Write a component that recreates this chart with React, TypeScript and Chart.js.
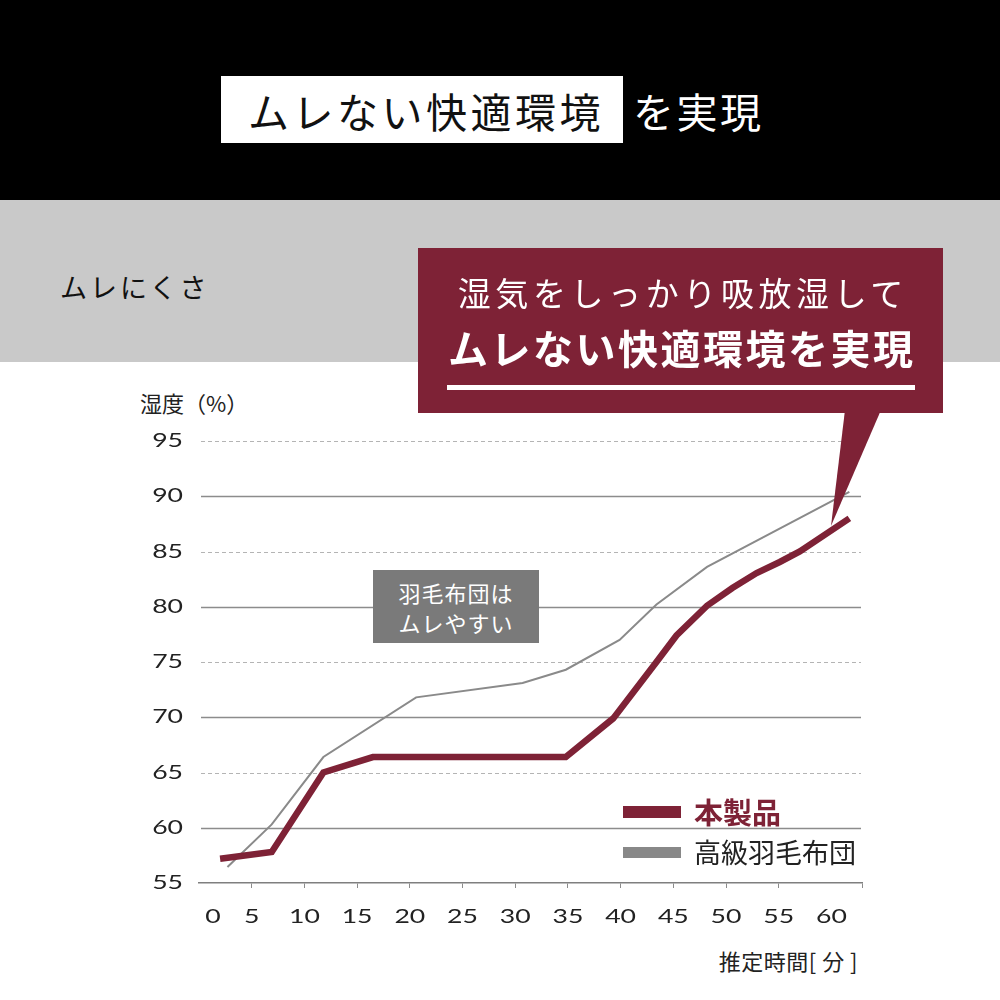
import React, { useEffect, useRef } from "react";
import { Chart, registerables } from "chart.js";

Chart.register(...registerables);

// ---- data ----
const timeTicks = [0, 5, 10, 15, 20, 25, 30, 35, 40, 45, 50, 55, 60];
const humidityTicks = [55, 60, 65, 70, 75, 80, 85, 90, 95];

const productTime = [2.0, 6.9, 11.8, 16.5, 34.8, 39.3, 43.4, 45.3, 48.2, 50.6, 52.9, 55.1, 57.0, 61.7];
const productHumidity = [57.2, 57.8, 65.0, 66.4, 66.4, 69.9, 75.0, 77.4, 80.1, 81.7, 83.05, 84.05, 85.0, 88.0];

const downTime = [2.7, 6.9, 11.8, 20.6, 30.7, 34.8, 39.9, 43.4, 48.2, 61.7];
const downHumidity = [56.45, 60.3, 66.4, 71.8, 73.1, 74.3, 77.0, 80.2, 83.6, 90.4];

const seriesLabels = ["本製品", "高級羽毛布団"];

const BURGUNDY = "#7e2236";
const GREY_LINE = "#8a8a8a";
const JP = '"Noto Sans CJK JP", "Noto Sans", sans-serif';

function drawWide(ctx: CanvasRenderingContext2D, text: string, x: number, y: number, align: CanvasTextAlign, sx: number) {
  ctx.save();
  ctx.translate(x, y);
  ctx.scale(sx, 1);
  ctx.textAlign = align;
  ctx.textBaseline = "middle";
  ctx.fillText(text, 0, 0);
  ctx.restore();
}

const gridPlugin = {
  id: "altGrid",
  beforeDatasetsDraw(chart: any) {
    const { ctx, chartArea, scales } = chart;
    const y = scales.y;
    ctx.save();
    humidityTicks.forEach((v) => {
      if (v === 55) return;
      const py = Math.round(y.getPixelForValue(v)) + 0.5;
      ctx.beginPath();
      if (v % 10 === 0) {
        ctx.setLineDash([]);
        ctx.strokeStyle = "#8c8c8c";
        ctx.lineWidth = 1.5;
      } else {
        ctx.setLineDash([4, 3]);
        ctx.strokeStyle = "#b4b4b4";
        ctx.lineWidth = 1;
      }
      ctx.moveTo(chartArea.left + 2, py);
      ctx.lineTo(chartArea.right - 1, py);
      ctx.stroke();
    });
    ctx.restore();
  },
  afterDraw(chart: any) {
    const { ctx, chartArea, scales } = chart;
    const x = scales.x;
    const y = scales.y;
    ctx.save();
    ctx.fillStyle = "#222";
    ctx.font = "19px Lato, sans-serif";
    humidityTicks.forEach((v) => {
      drawWide(ctx, String(v), chartArea.left - 16, y.getPixelForValue(v), "right", 1.4);
    });
    timeTicks.forEach((v) => {
      let px = x.getPixelForValue(v);
      if (v === 0) px += 14;
      drawWide(ctx, String(v), px, chartArea.bottom + 34, "center", 1.4);
    });
    ctx.restore();
  },
};

function ChartCanvas() {
  const ref = useRef<HTMLCanvasElement | null>(null);
  useEffect(() => {
    if (!ref.current) return;
    const chart = new Chart(ref.current, {
      type: "line",
      data: {
        datasets: [
          {
            label: seriesLabels[0],
            data: productTime.map((t, i) => ({ x: t, y: productHumidity[i] })),
            borderColor: BURGUNDY,
            borderWidth: 6.5,
            pointRadius: 0,
            tension: 0,
            fill: false,
          },
          {
            label: seriesLabels[1],
            data: downTime.map((t, i) => ({ x: t, y: downHumidity[i] })),
            borderColor: GREY_LINE,
            borderWidth: 2,
            pointRadius: 0,
            tension: 0,
            fill: false,
          },
        ],
      },
      options: {
        animation: false,
        responsive: true,
        maintainAspectRatio: false,
        layout: { padding: { left: 199, right: 138, top: 441, bottom: 107 } },
        plugins: { legend: { display: false }, tooltip: { enabled: false } },
        scales: {
          x: {
            type: "linear",
            min: 0,
            max: 62.9,
            ticks: { display: false, stepSize: 5 },
            grid: {
              drawOnChartArea: false,
              drawTicks: true,
              tickLength: 5,
              tickWidth: 1,
              tickColor: (c: any) => (c.tick && c.tick.value === 0 ? "rgba(0,0,0,0)" : "#8c8c8c"),
            },
            border: { display: true, color: "#7f7f7f", width: 1.5 },
            afterFit: (s: any) => {
              s.height = 10;
            },
          },
          y: {
            type: "linear",
            min: 55,
            max: 95,
            ticks: { display: false, stepSize: 5 },
            grid: { display: false },
            border: { display: false },
            afterFit: (s: any) => {
              s.width = 0;
            },
          },
        },
      },
      plugins: [gridPlugin],
    } as any);
    return () => chart.destroy();
  }, []);
  return <canvas ref={ref} style={{ display: "block" }} />;
}

const abs = (o: React.CSSProperties): React.CSSProperties => ({ position: "absolute", ...o });

export default function App() {
  return (
    <div
      style={{
        position: "absolute",
        left: 0,
        top: 0,
        width: 1000,
        height: 1000,
        background: "#fff",
        overflow: "hidden",
        fontFamily: JP,
      }}
    >
      {/* header band */}
      <div style={abs({ left: 0, top: 0, width: 1000, height: 200, background: "#000" })} />
      <div style={abs({ left: 221, top: 76, width: 402, height: 67, background: "#fff" })} />
      <div
        style={abs({
          left: 248,
          top: 84,
          height: 52,
          lineHeight: "52px",
          fontSize: 41,
          letterSpacing: 3.5,
          color: "#111",
          whiteSpace: "nowrap",
        })}
      >
        ムレない快適環境
      </div>
      <div
        style={abs({
          left: 633,
          top: 84,
          height: 52,
          lineHeight: "52px",
          fontSize: 41,
          letterSpacing: 2.5,
          color: "#fff",
          whiteSpace: "nowrap",
        })}
      >
        を実現
      </div>

      {/* gray band */}
      <div style={abs({ left: 0, top: 200, width: 1000, height: 162, background: "#c9c9c9" })} />
      <div
        style={abs({
          left: 60,
          top: 267,
          height: 40,
          lineHeight: "40px",
          fontSize: 27,
          letterSpacing: 3,
          color: "#111",
          whiteSpace: "nowrap",
        })}
      >
        ムレにくさ
      </div>

      {/* axis titles */}
      <div
        style={abs({
          left: 140,
          top: 387,
          height: 30,
          lineHeight: "30px",
          fontSize: 22,
          color: "#222",
          whiteSpace: "nowrap",
        })}
      >
        湿度（%）
      </div>
      <div
        style={abs({
          right: 142,
          top: 945,
          height: 30,
          lineHeight: "30px",
          fontSize: 22,
          letterSpacing: 0.5,
          color: "#222",
          whiteSpace: "nowrap",
        })}
      >
        推定時間[ 分 ]
      </div>

      {/* chart */}
      <div style={abs({ left: 0, top: 0, width: 1000, height: 1000 })}>
        <ChartCanvas />
      </div>

      {/* annotation */}
      <div
        style={abs({
          left: 373,
          top: 570,
          width: 166,
          height: 73,
          background: "#7a7a7a",
          color: "#fff",
          fontSize: 22,
          lineHeight: "30px",
          letterSpacing: 1,
          textAlign: "center",
          paddingTop: 7,
          boxSizing: "border-box",
        })}
      >
        羽毛布団は
        <br />
        ムレやすい
      </div>

      {/* legend */}
      <div style={abs({ left: 623, top: 806, width: 58, height: 12, background: BURGUNDY })} />
      <div
        style={abs({
          left: 694,
          top: 791,
          height: 40,
          lineHeight: "40px",
          fontSize: 29,
          fontWeight: 700,
          color: BURGUNDY,
          whiteSpace: "nowrap",
        })}
      >
        {seriesLabels[0]}
      </div>
      <div style={abs({ left: 623, top: 847, width: 58, height: 11, background: "#888" })} />
      <div
        style={abs({
          left: 694,
          top: 832,
          height: 40,
          lineHeight: "40px",
          fontSize: 27,
          color: "#222",
          whiteSpace: "nowrap",
        })}
      >
        {seriesLabels[1]}
      </div>

      {/* callout */}
      <svg style={abs({ left: 0, top: 0, width: 1000, height: 1000, pointerEvents: "none" })} width={1000} height={1000}>
        <polygon points="845,410 881,410 831,526" fill={BURGUNDY} />
      </svg>
      <div style={abs({ left: 418, top: 248, width: 525, height: 165, background: BURGUNDY })} />
      <div
        style={abs({
          left: 418,
          top: 270,
          width: 525,
          height: 44,
          lineHeight: "44px",
          fontSize: 33,
          letterSpacing: 4.6,
          color: "#fff",
          textAlign: "center",
          whiteSpace: "nowrap",
          textIndent: 4.6,
        })}
      >
        湿気をしっかり吸放湿して
      </div>
      <div
        style={abs({
          left: 418,
          top: 322,
          width: 525,
          height: 50,
          lineHeight: "50px",
          fontSize: 40,
          fontWeight: 700,
          letterSpacing: 2.5,
          color: "#fff",
          textAlign: "center",
          whiteSpace: "nowrap",
          textIndent: 2.5,
        })}
      >
        ムレない快適環境を実現
      </div>
      <div style={abs({ left: 447, top: 385, width: 468, height: 5, background: "#fff" })} />
    </div>
  );
}
